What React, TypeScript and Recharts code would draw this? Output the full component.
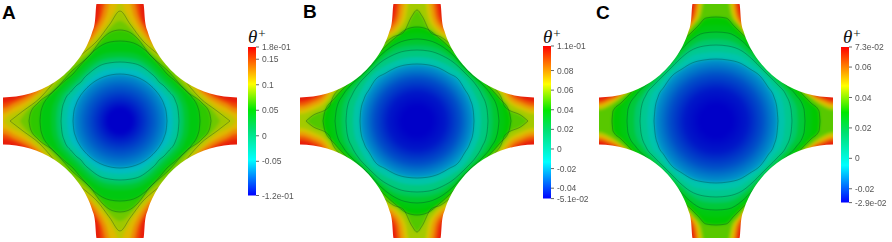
import { Area, Bar, BarChart, ComposedChart, XAxis, YAxis } from "recharts";

// outline of the cross, half height at each x (same in all three panels)
const outlineX = [0, 23.5, 25, 28, 32, 38, 46, 56, 66, 78, 90, 104, 117];
const outlineY = [117, 117, 100.3, 88.3, 78.1, 67, 56.2, 46.1, 38.6, 32, 27.5, 24.4, 23.5];

// contours are [x, half height] pairs, outermost first
const contoursA = [
  [[0, 117], [18, 117], [21, 106], [27, 94], [36, 82], [46, 74], [56, 66], [66, 56], [74, 46], [82, 36], [94, 27], [106, 21], [117, 18]],
  [[0, 117], [13, 117], [18, 106], [25, 92], [34, 80], [44, 72], [54, 64], [64, 54], [72, 44], [80, 34], [92, 25], [106, 18], [117, 13]],
  [[0, 117], [8, 117], [14, 105], [22, 90], [32, 78], [42, 70], [52, 62], [62, 52], [70, 42], [78, 32], [90, 22], [105, 14], [117, 8]],
  [[0, 117], [4, 113], [13, 97], [24, 84], [36, 72], [46, 64], [64, 46], [72, 36], [84, 24], [97, 13], [113, 4], [117, 0]],
  [[0, 110], [10, 97], [23, 80], [34, 70], [44, 62], [62, 44], [70, 34], [80, 23], [97, 10], [110, 0]],
  [[0, 100], [10, 93], [22, 78], [32, 68], [44, 58], [52, 52], [58, 44], [68, 32], [78, 22], [93, 10], [100, 0]],
  [[0, 91], [8, 89.5], [18, 82], [30, 66], [40, 57], [48, 50], [57, 40], [66, 30], [82, 18], [89.5, 8], [91, 0]],
  [[0, 80], [10, 79], [25, 71], [34, 62], [42, 53], [47, 47], [53, 42], [62, 34], [71, 25], [79, 10], [80, 0]],
  [[0, 69], [10, 68.4], [22, 64.5], [34, 56], [42, 48], [45, 45], [48, 42], [56, 34], [64.5, 22], [68.4, 10], [69, 0]],
  [[0, 64], [10, 63.3], [22, 59.5], [32, 52], [39, 45], [42, 42], [45, 39], [52, 32], [59.5, 22], [63.3, 10], [64, 0]],
  [[0, 59], [10, 58.2], [20, 55.5], [30, 48.5], [36, 43], [39, 39], [43, 36], [48.5, 30], [55.5, 20], [58.2, 10], [59, 0]],
  [[0, 53], [9, 52.2], [18, 49.8], [27, 44], [33, 39], [36, 36], [39, 33], [44, 27], [49.8, 18], [52.2, 9], [53, 0]],
  [[0, 47], [8, 46.3], [16, 44.2], [24, 40.4], [30, 36], [36, 30], [40.4, 24], [44.2, 16], [46.3, 8], [47, 0]],
];
const fillsA = ["#ee4a05", "#ec8a05", "#dfb800", "#bcc600", "#9ec800", "#6fc800", "#2ec800", "#00c810", "#00c830", "#00c860", "#00c4a0", "#00bcc0", "#0098c8"];
const linedA = [false, false, false, false, true, false, true, true, false, false, true, false, true];

const contoursB = [
  [[0, 117], [19, 117], [22, 106], [27, 97], [35, 90], [44, 82], [54, 74], [74, 54], [82, 44], [90, 35], [97, 27], [106, 22], [117, 19]],
  [[0, 117], [15, 117], [19, 104], [25, 94], [33, 88], [42, 80], [52, 72], [72, 52], [80, 42], [88, 33], [94, 25], [104, 19], [117, 15]],
  [[0, 117], [11, 117], [15, 104], [22, 92], [31, 86], [40, 78], [50, 70], [70, 50], [78, 40], [86, 31], [92, 22], [104, 15], [117, 11]],
  [[0, 117], [7, 117], [11, 104], [18, 92], [28, 84], [38, 76], [48, 68], [68, 48], [76, 38], [84, 28], [92, 18], [104, 11], [117, 7]],
  [[0, 111], [5, 105], [14, 88], [24, 84], [32, 78], [42, 68], [68, 42], [78, 32], [84, 24], [88, 14], [105, 5], [111, 0]],
  [[0, 94], [10, 92], [22, 83], [32, 74], [42, 64], [64, 42], [74, 32], [83, 22], [92, 10], [94, 0]],
  [[0, 88], [12, 86], [24, 79], [34, 70], [44, 60], [60, 44], [70, 34], [79, 24], [86, 12], [88, 0]],
  [[0, 82], [12, 80.5], [26, 74], [36, 66], [47, 54], [54, 47], [66, 36], [74, 26], [80.5, 12], [82, 0]],
  [[0, 76], [12, 75], [26, 70], [36, 62], [47, 51], [51, 47], [62, 36], [70, 26], [75, 12], [76, 0]],
  [[0, 71], [12, 70], [26, 65], [36, 59], [46, 50], [50, 46], [59, 36], [65, 26], [70, 12], [71, 0]],
  [[0, 64], [12, 63], [24, 59], [34, 54], [45, 46], [46, 45], [54, 34], [59, 24], [63, 12], [64, 0]],
  [[0, 57], [10, 56.3], [22, 53], [32, 47.5], [41.5, 41.5], [47.5, 32], [53, 22], [56.3, 10], [57, 0]],
];
const fillsB = ["#ee5a05", "#eb9a05", "#d6c400", "#a4ca00", "#52c800", "#00c800", "#00c810", "#00c830", "#00c858", "#00c880", "#00c4a8", "#00a0c8"];
const linedB = [false, false, false, false, true, true, false, true, false, true, false, true];

const contoursC = [
  [[0, 117], [20, 117], [23, 108], [28, 97], [37, 88], [48, 76], [60, 64], [64, 60], [76, 48], [88, 37], [97, 28], [108, 23], [117, 20]],
  [[0, 117], [17, 117], [20, 108], [26, 96], [35, 86], [46, 74], [58, 62], [62, 58], [74, 46], [86, 35], [96, 26], [108, 20], [117, 17]],
  [[0, 117], [14, 117], [18, 106], [25, 94], [33, 84], [44, 72], [56, 60], [60, 56], [72, 44], [84, 33], [94, 25], [106, 18], [117, 14]],
  [[0, 117], [11, 117], [15, 106], [22, 96], [30, 86], [40, 76], [52, 62], [62, 52], [76, 40], [86, 30], [96, 22], [106, 15], [117, 11]],
  [[0, 104], [10, 103], [18, 95], [26, 87], [36, 78], [46, 68], [68, 46], [78, 36], [87, 26], [95, 18], [103, 10], [104, 0]],
  [[0, 96], [12, 95], [24, 85], [36, 74], [48, 60], [60, 48], [74, 36], [85, 24], [95, 12], [96, 0]],
  [[0, 89], [12, 88], [26, 80], [36, 70], [46, 58], [58, 46], [70, 36], [80, 26], [88, 12], [89, 0]],
  [[0, 82], [12, 81], [26, 74], [36, 65], [46, 55], [55, 46], [65, 36], [74, 26], [81, 12], [82, 0]],
  [[0, 76], [12, 75], [26, 70], [36, 62], [46, 52], [52, 46], [62, 36], [70, 26], [75, 12], [76, 0]],
  [[0, 69], [12, 68], [24, 65], [34, 58], [44, 50], [50, 44], [58, 34], [65, 24], [68, 12], [69, 0]],
  [[0, 62], [12, 61], [24, 58], [34, 52], [44.5, 44.5], [52, 34], [58, 24], [61, 12], [62, 0]],
];
const fillsC = ["#ea6a05", "#e8b400", "#b4ca00", "#58c800", "#00c800", "#00c810", "#00c83a", "#00c868", "#00c890", "#00c4ac", "#009cc8"];
const linedC = [false, false, false, false, true, false, true, false, true, false, true];

// colour bars
const domainA = [-0.117, 0.174];
const ticksA = [-0.117, -0.05, 0, 0.05, 0.1, 0.15, 0.174];
const labelsA = ["-1.2e-01", "-0.05", "0", "0.05", "0.1", "0.15", "1.8e-01"];
const domainB = [-0.0506, 0.105];
const ticksB = [-0.0506, -0.04, -0.02, 0, 0.02, 0.04, 0.06, 0.08, 0.105];
const labelsB = ["-5.1e-02", "-0.04", "-0.02", "0", "0.02", "0.04", "0.06", "0.08", "1.1e-01"];
const domainC = [-0.0291, 0.0732];
const ticksC = [-0.0291, -0.02, 0, 0.02, 0.04, 0.06, 0.0732];
const labelsC = ["-2.9e-02", "-0.02", "0", "0.02", "0.04", "0.06", "7.3e-02"];

const mirror = (pts: number[][]) => {
  const right = pts.map(([x, y]) => ({ x, band: [-y, y] }));
  const left = pts.slice(1).reverse().map(([x, y]) => ({ x: -x, band: [-y, y] }));
  return [...left, ...right];
};

// the colour layer is drawn a bit past the clipped edge so its blur does not fade there
const PAST = 123;
const pastEdge = (pts: number[][]) => {
  const moved = pts.map(([x, y]) => [x, y === 117 ? PAST : y]);
  const last = pts[pts.length - 1];
  return mirror(last[0] === 117 ? [...moved, [PAST, last[1]]] : moved);
};

const outlineRows = mirror(outlineX.map((x, i) => [x, outlineY[i]]));
const maskTop = outlineRows.map((r) => ({ x: r.x, band: [r.band[1], 117] }));
const maskBottom = outlineRows.map((r) => ({ x: r.x, band: [-117, r.band[0]] }));
const baseRows = mirror([[0, PAST], [PAST, PAST]]);

function Panel({ id, left, contours, fills, lined, inner }: any) {
  return (
    <div style={{ position: "absolute", left, top: 4, width: 234, height: 234, overflow: "hidden" }}>
      <div style={{ position: "absolute", left: -6, top: -6, filter: "blur(1.5px)" }}>
        <ComposedChart width={246} height={246} margin={{ top: 0, right: 0, bottom: 0, left: 0 }} data={baseRows}>
          <defs>
            <radialGradient id={id}>
              {inner.map((c: string, i: number) => (
                <stop key={i} offset={i / (inner.length - 1)} stopColor={c} />
              ))}
            </radialGradient>
          </defs>
          <XAxis type="number" dataKey="x" domain={[-PAST, PAST]} hide />
          <YAxis type="number" domain={[-PAST, PAST]} hide />
          <Area data={baseRows} dataKey="band" type="linear" fill="#e81e0a" fillOpacity={1} stroke="none" isAnimationActive={false} />
          {contours.map((pts: number[][], i: number) => (
            <Area
              key={i}
              data={pastEdge(pts)}
              dataKey="band"
              type="monotone"
              fill={i === contours.length - 1 ? `url(#${id})` : fills[i]}
              fillOpacity={1}
              stroke="none"
              isAnimationActive={false}
            />
          ))}
        </ComposedChart>
      </div>
      <div style={{ position: "absolute", left: 0, top: 0, filter: "blur(0.5px)" }}>
        <ComposedChart width={234} height={234} margin={{ top: 0, right: 0, bottom: 0, left: 0 }} data={outlineRows}>
          <XAxis type="number" dataKey="x" domain={[-117, 117]} hide />
          <YAxis type="number" domain={[-117, 117]} hide />
          {contours.map((pts: number[][], i: number) =>
            lined[i] ? (
              <Area
                key={i}
                data={mirror(pts)}
                dataKey="band"
                type="monotone"
                fill="none"
                stroke="rgba(0,50,40,0.4)"
                strokeWidth={0.8}
                isAnimationActive={false}
              />
            ) : null
          )}
          <Area data={maskTop} dataKey="band" type="monotone" fill="#fff" fillOpacity={1} stroke="none" isAnimationActive={false} />
          <Area data={maskBottom} dataKey="band" type="monotone" fill="#fff" fillOpacity={1} stroke="none" isAnimationActive={false} />
        </ComposedChart>
      </div>
    </div>
  );
}

const barStops = ["#ff0000", "#ffff00", "#00e800", "#00e070", "#00ffff", "#0000ff"];
const barOffsets = [0, 0.25, 0.42, 0.55, 0.76, 1];

function ColorBar({ id, left, top, height, domain, ticks, labels }: any) {
  return (
    <div style={{ position: "absolute", left, top: top - 10, filter: "blur(0.3px)" }}>
      <BarChart
        width={48}
        height={height + 20}
        margin={{ top: 10, right: 0, bottom: 10, left: 0 }}
        data={[{ name: "bar", span: domain }]}
        barCategoryGap={0}
      >
        <defs>
          <linearGradient id={id} x1="0" y1="0" x2="0" y2="1">
            {barStops.map((c, i) => (
              <stop key={i} offset={barOffsets[i]} stopColor={c} />
            ))}
          </linearGradient>
        </defs>
        <XAxis dataKey="name" hide />
        <YAxis
          orientation="right"
          type="number"
          width={40}
          domain={domain}
          ticks={ticks}
          interval={0}
          axisLine={false}
          tickSize={3}
          tickMargin={3}
          tickLine={{ stroke: "#666" }}
          tick={{ fontSize: 8.5, fill: "#555", fontFamily: "Liberation Sans", textAnchor: "start" }}
          tickFormatter={(v: number) => labels[ticks.indexOf(v)]}
        />
        <Bar dataKey="span" fill={`url(#${id})`} isAnimationActive={false} />
      </BarChart>
    </div>
  );
}

const letter: any = { position: "absolute", fontFamily: "Liberation Sans", fontWeight: 700, fontSize: 19, lineHeight: "19px", color: "#000" };
const theta: any = { position: "absolute", fontFamily: "Liberation Serif", fontStyle: "italic", fontSize: 19, lineHeight: "19px", color: "#111" };
const plus: any = { fontSize: 13, fontStyle: "normal", position: "relative", top: -5, left: 1 };

export default function App() {
  return (
    <div style={{ position: "absolute", left: 0, top: 0, width: 892, height: 242, background: "#fff", overflow: "hidden" }}>
      <Panel id="innerA" left={3} contours={contoursA} fills={fillsA} lined={linedA} inner={["#0000c8", "#0000c8", "#0030c8", "#0060c8", "#0098c8"]} />
      <Panel id="innerB" left={300} contours={contoursB} fills={fillsB} lined={linedB} inner={["#0000c8", "#0000c8", "#0018c8", "#0050c8", "#00a0c8"]} />
      <Panel id="innerC" left={599} contours={contoursC} fills={fillsC} lined={linedC} inner={["#0000c8", "#0000c8", "#0018c8", "#0050c8", "#009cc8"]} />
      <ColorBar id="barA" left={247.5} top={46.7} height={148.5} domain={domainA} ticks={ticksA} labels={labelsA} />
      <ColorBar id="barB" left={542.7} top={45.7} height={152.6} domain={domainB} ticks={ticksB} labels={labelsB} />
      <ColorBar id="barC" left={841.3} top={46.7} height={155.6} domain={domainC} ticks={ticksC} labels={labelsC} />
      <div style={{ ...letter, left: 2, top: 3 }}>A</div>
      <div style={{ ...letter, left: 303, top: 2 }}>B</div>
      <div style={{ ...letter, left: 596, top: 3 }}>C</div>
      <div style={{ ...theta, left: 248, top: 27 }}>θ<span style={plus}>+</span></div>
      <div style={{ ...theta, left: 543, top: 27 }}>θ<span style={plus}>+</span></div>
      <div style={{ ...theta, left: 843, top: 27 }}>θ<span style={plus}>+</span></div>
    </div>
  );
}
